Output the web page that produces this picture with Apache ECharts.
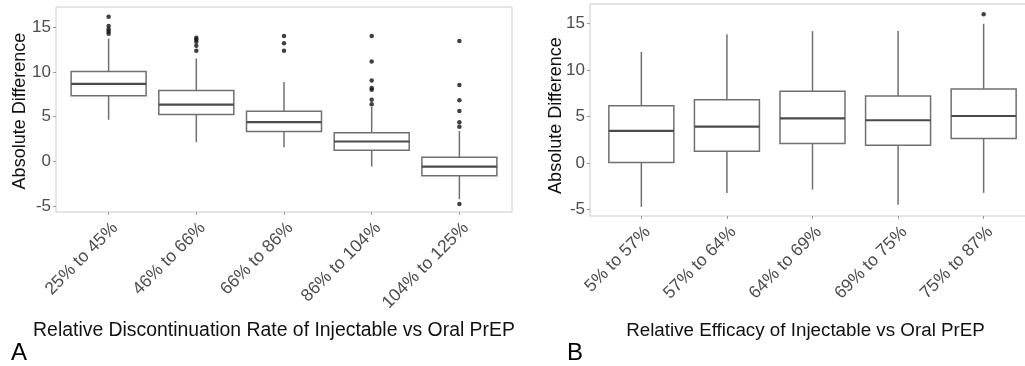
<!DOCTYPE html>
<html>
<head>
<meta charset="utf-8">
<script src="https://cdn.jsdelivr.net/npm/echarts@6/dist/echarts.min.js"></script>
<style>
html,body{margin:0;padding:0;background:#fff;}
#chart{width:1025px;height:366px;}
</style>
</head>
<body>
<div id="chart"></div>
<script>
// ---- Data ----
const categoriesA = ['25% to 45%', '46% to 66%', '66% to 86%', '86% to 104%', '104% to 125%'];
const categoriesB = ['5% to 57%', '57% to 64%', '64% to 69%', '69% to 75%', '75% to 87%'];
// [lower whisker, Q1, median, Q3, upper whisker]
const boxesA = [
  [4.66, 7.35, 8.66, 10.04, 13.7],
  [2.16, 5.26, 6.34, 7.91, 11.5],
  [1.6, 3.36, 4.4, 5.6, 8.88],
  [-0.56, 1.27, 2.24, 3.2, 6.1],
  [-4.2, -1.57, -0.56, 0.49, 3.4]
];
const outliersA = [
  [14.25, 14.5, 14.75, 15.1, 16.15],
  [12.35, 12.9, 13.35, 13.6, 13.8],
  [12.35, 13.2, 14.0],
  [6.38, 6.9, 8.02, 8.2, 9.03, 11.16, 14.0],
  [3.88, 4.37, 5.63, 6.83, 8.54, 13.43, -4.74]
];
const boxesB = [
  [-4.73, 0.04, 3.44, 6.16, 11.94],
  [-3.23, 1.25, 3.91, 6.81, 13.84],
  [-2.87, 2.08, 4.8, 7.71, 14.19],
  [-4.52, 1.9, 4.59, 7.2, 14.19],
  [-3.23, 2.62, 5.05, 7.96, 14.98]
];
const outliersB = [[], [], [], [], [16.0]];
const yTicks = [-5, 0, 5, 10, 15];
const xTicks = [1, 2, 3, 4, 5];

// ---- Build ----
const boxColor = '#707070';
const medColor = '#4a4a4a';
const tickColor = '#4d4d4d';
const fontFam = '"Liberation Sans", Arial, Helvetica, sans-serif';

function boxData(boxes) { return boxes.map((b, i) => [i + 1].concat(b)); }
function outlierData(outs) {
  const r = [];
  outs.forEach((arr, i) => arr.forEach(v => r.push([i + 1, v])));
  return r;
}
function xAxis(gridIndex, cats) {
  return {
    type: 'value', gridIndex: gridIndex, min: 0.4, max: 5.6,
    axisLine: { show: false, onZero: false },
    splitLine: { show: false },
    axisTick: { show: true, length: 3, lineStyle: { color: '#9a9a9a' }, customValues: xTicks },
    axisLabel: {
      customValues: xTicks, rotate: 45, margin: 7, align: 'right', verticalAlign: 'top',
      color: tickColor, fontSize: 17.5, fontFamily: fontFam,
      formatter: v => cats[Math.round(v) - 1]
    }
  };
}
function yAxis(gridIndex, min, max) {
  return {
    type: 'value', gridIndex: gridIndex, min: min, max: max,
    axisLine: { show: false, onZero: false },
    splitLine: { show: false },
    axisTick: { show: true, length: 3, lineStyle: { color: '#9a9a9a' }, customValues: yTicks },
    axisLabel: { customValues: yTicks, margin: 5, color: tickColor, fontSize: 17, fontFamily: fontFam }
  };
}
function makeBoxRenderer(bw) {
  return function (params, api) {
    const x = api.value(0);
    const pLo = api.coord([x, api.value(1)]);
    const pQ1 = api.coord([x, api.value(2)]);
    const pMed = api.coord([x, api.value(3)]);
    const pQ3 = api.coord([x, api.value(4)]);
    const pHi = api.coord([x, api.value(5)]);
    const h = bw / 2;
    const cx = pMed[0];
    const lineStyle = { stroke: boxColor, lineWidth: 1.5, fill: null };
    return {
      type: 'group',
      children: [
        { type: 'line', shape: { x1: cx, y1: pHi[1], x2: cx, y2: pQ3[1] }, style: lineStyle },
        { type: 'line', shape: { x1: cx, y1: pQ1[1], x2: cx, y2: pLo[1] }, style: lineStyle },
        { type: 'rect', shape: { x: cx - h, y: pQ3[1], width: bw, height: pQ1[1] - pQ3[1] }, style: { fill: '#fff', stroke: boxColor, lineWidth: 1.5 } },
        { type: 'line', shape: { x1: cx - h, y1: pMed[1], x2: cx + h, y2: pMed[1] }, style: { stroke: medColor, lineWidth: 2.2 } }
      ]
    };
  };
}
function series(idx, boxes, outs, bw) {
  return [
    {
      type: 'custom', xAxisIndex: idx, yAxisIndex: idx,
      data: boxData(boxes), encode: { x: 0, y: [1, 2, 3, 4, 5] },
      renderItem: makeBoxRenderer(bw), silent: true, clip: false
    },
    {
      type: 'scatter', xAxisIndex: idx, yAxisIndex: idx,
      data: outlierData(outs), symbolSize: 4.5,
      itemStyle: { color: '#111' }, silent: true, z: 4
    }
  ];
}

const chart = echarts.init(document.getElementById('chart'), null, { renderer: 'canvas' });
chart.setOption({
  animation: false,
  backgroundColor: '#fff',
  grid: [
    { left: 56, top: 7, width: 456, height: 205, show: true, borderColor: '#cccccc', borderWidth: 1, backgroundColor: '#fff', outerBoundsMode: 'none', containLabel: false },
    { left: 590, top: 4, width: 445, height: 212, show: true, borderColor: '#cccccc', borderWidth: 1, backgroundColor: '#fff', outerBoundsMode: 'none', containLabel: false }
  ],
  xAxis: [xAxis(0, categoriesA), xAxis(1, categoriesB)],
  yAxis: [yAxis(0, -5.62, 17.23), yAxis(1, -5.72, 17.11)],
  series: [].concat(series(0, boxesA, outliersA, 75), series(1, boxesB, outliersB, 65)),
  graphic: [
    { type: 'text', x: 20, y: 111, rotation: Math.PI / 2, style: { text: 'Absolute Difference', fill: '#111', font: '18px ' + fontFam, textAlign: 'center', textVerticalAlign: 'middle' } },
    { type: 'text', x: 556, y: 115.5, rotation: Math.PI / 2, style: { text: 'Absolute Difference', fill: '#111', font: '18px ' + fontFam, textAlign: 'center', textVerticalAlign: 'middle' } },
    { type: 'text', x: 274, y: 331, style: { text: 'Relative Discontinuation Rate of Injectable vs Oral PrEP', fill: '#111', font: '19.4px ' + fontFam, textAlign: 'center', textVerticalAlign: 'middle' } },
    { type: 'text', x: 805.5, y: 331, style: { text: 'Relative Efficacy of Injectable vs Oral PrEP', fill: '#111', font: '18.8px ' + fontFam, textAlign: 'center', textVerticalAlign: 'middle' } },
    { type: 'text', x: 11, y: 353, style: { text: 'A', fill: '#000', font: '24px ' + fontFam, textVerticalAlign: 'middle' } },
    { type: 'text', x: 567, y: 353, style: { text: 'B', fill: '#000', font: '24px ' + fontFam, textVerticalAlign: 'middle' } }
  ]
});
</script>
</body>
</html>
